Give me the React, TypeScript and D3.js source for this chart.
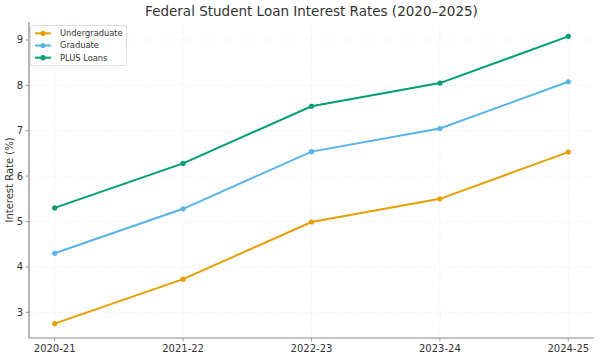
import React from "react";
import * as d3 from "d3";

const categories = ["2020-21", "2021-22", "2022-23", "2023-24", "2024-25"];
const undergraduate = [2.75, 3.73, 4.99, 5.5, 6.53];
const graduate = [4.3, 5.28, 6.54, 7.05, 8.08];
const plusLoans = [5.3, 6.28, 7.54, 8.05, 9.08];
const yTicks = [3, 4, 5, 6, 7, 8, 9];
const seriesNames = ["Undergraduate", "Graduate", "PLUS Loans"];
const seriesColors = ["#E69F00", "#56B4E9", "#009E73"];

const W = 600;
const H = 358;
const M = { left: 29, right: 594, top: 22, bottom: 338 };
const FONT = "DejaVu Sans, sans-serif";

export default function App() {
  const series = [undergraduate, graduate, plusLoans];
  const x = d3.scaleLinear().domain([-0.2, categories.length - 1 + 0.2]).range([M.left, M.right]);
  const all = series.flat();
  const lo = d3.min(all)!, hi = d3.max(all)!;
  const pad = (hi - lo) * 0.05;
  const y = d3.scaleLinear().domain([lo - pad, hi + pad]).range([M.bottom, M.top]);
  const line = d3.line<number>().x((_, i) => x(i)).y((d) => y(d));

  return (
    <svg width={W} height={H} style={{ position: "absolute", left: 0, top: 0, background: "#fff" }} fontFamily={FONT}>
      <rect width={W} height={H} fill="#fff" />
      {/* grid */}
      {categories.map((_, i) => (
        <line key={"gx" + i} x1={x(i)} x2={x(i)} y1={M.top} y2={M.bottom} stroke="#ececec" strokeWidth={0.6} strokeDasharray="3,2" />
      ))}
      {yTicks.map((t) => (
        <line key={"gy" + t} x1={M.left} x2={M.right} y1={y(t)} y2={y(t)} stroke="#ececec" strokeWidth={0.6} strokeDasharray="3,2" />
      ))}
      {/* spines */}
      <line x1={M.left} x2={M.left} y1={M.top} y2={M.bottom} stroke="#888" strokeWidth={1.2} />
      <line x1={M.left} x2={M.right} y1={M.bottom} y2={M.bottom} stroke="#888" strokeWidth={1.2} />
      {/* ticks */}
      {yTicks.map((t) => (
        <g key={"ty" + t}>
          <line x1={M.left - 3.5} x2={M.left} y1={y(t)} y2={y(t)} stroke="#888" strokeWidth={0.8} />
          <text x={M.left - 6} y={y(t)} dy="0.35em" textAnchor="end" fontSize={10} fill="#333">{t}</text>
        </g>
      ))}
      {categories.map((c, i) => (
        <g key={"tx" + i}>
          <line x1={x(i)} x2={x(i)} y1={M.bottom} y2={M.bottom + 3.5} stroke="#888" strokeWidth={0.8} />
          <text x={x(i)} y={M.bottom + 14} textAnchor="middle" fontSize={10} fill="#333">{c}</text>
        </g>
      ))}
      {/* axis label */}
      <text transform={`translate(13,${(M.top + M.bottom) / 2}) rotate(-90)`} textAnchor="middle" fontSize={10} fill="#333">Interest Rate (%)</text>
      {/* title */}
      <text x={(M.left + M.right) / 2} y={16} textAnchor="middle" fontSize={13.5} fill="#333">Federal Student Loan Interest Rates (2020–2025)</text>
      {/* series */}
      {series.map((s, k) => (
        <g key={"s" + k}>
          <path d={line(s)!} fill="none" stroke={seriesColors[k]} strokeWidth={2} />
          {s.map((v, i) => (
            <circle key={i} cx={x(i)} cy={y(v)} r={2.6} fill={seriesColors[k]} />
          ))}
        </g>
      ))}
      {/* legend */}
      <rect x={30.5} y={25.5} width={96} height={40} rx={2} fill="#fff" fillOpacity={0.8} stroke="#d5d5d5" strokeWidth={0.8} />
      {seriesNames.map((n, k) => {
        const ly = 33.3 + k * 12.2;
        return (
          <g key={"l" + k}>
            <line x1={35} x2={51} y1={ly} y2={ly} stroke={seriesColors[k]} strokeWidth={2} />
            <circle cx={43} cy={ly} r={2.6} fill={seriesColors[k]} />
            <text x={60} y={ly} dy="0.35em" fontSize={8.3} fill="#333">{n}</text>
          </g>
        );
      })}
    </svg>
  );
}
